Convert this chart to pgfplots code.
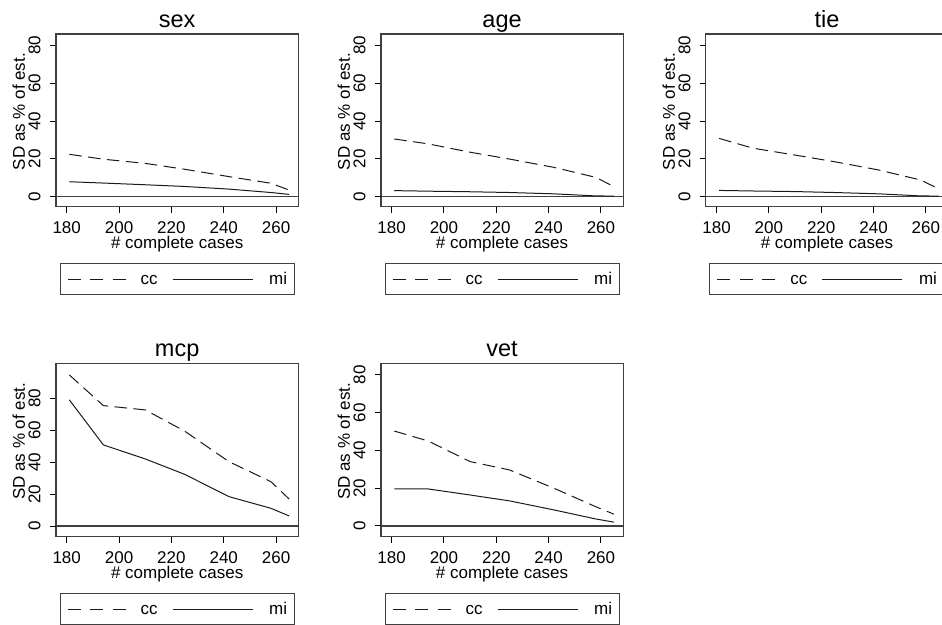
\documentclass[border=0pt]{standalone}
\usepackage{fontspec}
\setmainfont{Liberation Sans}
\usepackage{pgfplots}
\usepackage{pgfplotstable}
\pgfplotsset{compat=1.18}
\definecolor{framegray}{HTML}{404040}
\definecolor{linecol}{HTML}{1A1A1A}
\newcommand\tickfont{\fontsize{17bp}{20bp}\selectfont}
\newcommand\titlefont{\fontsize{23.5bp}{28bp}\selectfont}

\pgfplotstableread{
n cc mi
181 22.4 7.9
194 19.8 7.2
210 17.6 6.3
225 14.5 5.4
242 10.6 4.0
258 7.1 2.2
265 3.5 1.2
}\sexdata
\pgfplotstableread{
n cc mi
181 30.5 3.2
194 27.9 2.9
210 23.5 2.6
225 19.9 2.2
242 15.5 1.5
258 10.2 0.4
265 5.3 0.3
}\agedata
\pgfplotstableread{
n cc mi
181 30.8 3.3
194 25.6 3.0
210 22.0 2.7
225 18.5 2.2
242 14.1 1.5
258 8.8 0.4
265 4.1 0.3
}\tiedata
\pgfplotstableread{
n cc mi
181 94.6 79.0
194 75.4 50.8
210 72.7 42.0
225 59.5 32.4
242 40.3 18.4
258 27.8 11.1
265 16.9 6.3
}\mcpdata
\pgfplotstableread{
n cc mi
181 50.3 19.6
194 45.0 19.6
210 34.1 16.4
225 29.7 13.3
242 20.0 8.5
258 10.2 3.7
265 6.2 2.0
}\vetdata

\tikzset{
  cclab/.style={text width=46bp, align=center, inner xsep=0bp, inner ysep=0bp, anchor=west, text height=13bp, text depth=2bp},
  milab/.style={text width=34bp, align=right, inner xsep=0bp, inner ysep=0bp, anchor=west, text height=13bp, text depth=2bp},
}

\pgfplotsset{
  panel/.style={
    scale only axis, width=242.3bp,
    xmin=175.9, xmax=268.5,
    xtick={180,200,220,240,260},
    ytick={0,20,40,60,80},
    tick pos=left, tick align=outside, major tick length=6bp,
    axis line style={framegray, line width=1.2bp},
    every tick/.style={black, line width=1bp},
    /pgf/number format/assume math mode=true,
    tick label style={font=\tickfont, inner sep=0bp},
    xticklabel style={anchor=north},
    xticklabel shift=8.3bp,
    yticklabel style={xshift=-9.5bp, rotate=90, anchor=base},
    xlabel={\# complete cases},
    ylabel={SD as \% of est.},
    every axis x label/.style={font=\tickfont, inner sep=0bp, at={(axis description cs:0.5,0)}, anchor=base, yshift=-41.6bp},
    every axis y label/.style={font=\tickfont, inner sep=0bp, rotate=90, at={([xshift=-31bp]axis description cs:0,0.55)}, anchor=base},
    every axis title/.style={font=\titlefont, inner sep=0bp, at={(axis description cs:0.5,1)}, anchor=base, yshift=6.7bp},
    extra y ticks={0}, extra y tick labels={},
    extra y tick style={grid=major, major grid style={framegray, line width=1.2bp}},
    legend columns=2,
    legend style={at={(axis description cs:0.5,0)}, anchor=north, yshift=-56.6bp,
      draw=framegray, line width=1bp, inner xsep=7bp, inner ysep=7.8bp,
      column sep=0bp, font=\tickfont},
  },
  cc/.style={linecol, line width=1bp, dash pattern=on 12.5bp off 6.5bp,
    legend image code/.code={\draw[##1, dash pattern=on 13bp off 9.5bp] (0bp,0bp) -- (58bp,0bp);}},
  mi/.style={linecol, line width=1bp,
    legend image code/.code={\path (0bp,0bp) -- (22bp,0bp); \draw[##1] (22bp,0bp) -- (80bp,0bp);}},
}

\begin{document}
\begin{tikzpicture}
\useasboundingbox (0,0) rectangle (942bp,625bp);
\clip (0,0) rectangle (942bp,625bp);

% sex
\begin{axis}[panel, at={(56bp,418.3bp)}, anchor=south west, height=172.7bp,
  ymin=-5.3, ymax=86.0, title={sex}]
\addplot[cc] table[x=n, y=cc] {\sexdata};
\addlegendentry[cclab]{cc}
\addplot[mi] table[x=n, y=mi] {\sexdata};
\addlegendentry[milab]{mi}
\end{axis}

% age
\begin{axis}[panel, at={(380.9bp,418.3bp)}, anchor=south west, height=172.7bp,
  ymin=-5.3, ymax=86.0, title={age}]
\addplot[cc] table[x=n, y=cc] {\agedata};
\addlegendentry[cclab]{cc}
\addplot[mi] table[x=n, y=mi] {\agedata};
\addlegendentry[milab]{mi}
\end{axis}

% tie
\begin{axis}[panel, at={(705.8bp,418.3bp)}, anchor=south west, height=172.7bp,
  ymin=-5.3, ymax=86.0, title={tie}]
\addplot[cc] table[x=n, y=cc] {\tiedata};
\addlegendentry[cclab]{cc}
\addplot[mi] table[x=n, y=mi] {\tiedata};
\addlegendentry[milab]{mi}
\end{axis}

% mcp
\begin{axis}[panel, at={(56bp,88.3bp)}, anchor=south west, height=173.4bp,
  ymin=-6.7, ymax=101.9, title={mcp}]
\addplot[cc] table[x=n, y=cc] {\mcpdata};
\addlegendentry[cclab]{cc}
\addplot[mi] table[x=n, y=mi] {\mcpdata};
\addlegendentry[milab]{mi}
\end{axis}

% vet
\begin{axis}[panel, at={(380.9bp,88.3bp)}, anchor=south west, height=173.4bp,
  ymin=-5.7, ymax=86.2, title={vet}]
\addplot[cc] table[x=n, y=cc] {\vetdata};
\addlegendentry[cclab]{cc}
\addplot[mi] table[x=n, y=mi] {\vetdata};
\addlegendentry[milab]{mi}
\end{axis}
\end{tikzpicture}
\end{document}
